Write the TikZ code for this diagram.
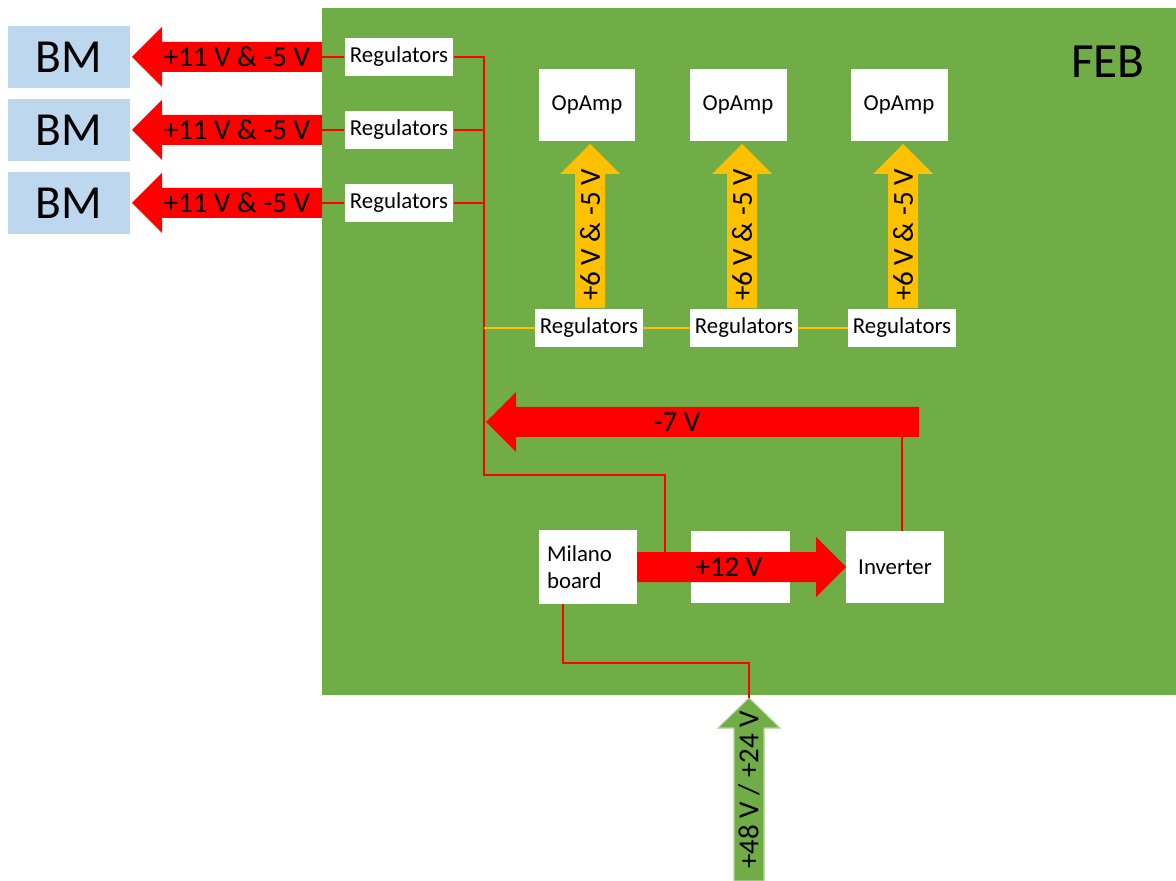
\documentclass[tikz,border=0pt]{standalone}
\usepackage{fontspec}
\setmainfont{Carlito}
\definecolor{febgreen}{HTML}{70AD47}
\definecolor{bmblue}{HTML}{BDD7EE}
\definecolor{pwrred}{HTML}{FF0000}
\definecolor{pwrorange}{HTML}{FFC000}
\begin{document}
\begin{tikzpicture}[x=0.02cm,y=-0.02cm]
        \tikzstyle{box}=[fill=white,inner sep=0pt,font=\fontsize{13}{15.5}\selectfont];
        \tikzstyle{reg}=[box,minimum width=2.18cm,minimum height=0.76cm];
        \tikzstyle{opamp}=[box,minimum width=1.94cm,minimum height=1.44cm];
        \tikzstyle{bm}=[fill=bmblue,minimum width=2.44cm,minimum height=1.24cm,inner sep=0pt,font=\fontsize{27}{30}\selectfont];
        \tikzstyle{wire}=[draw=pwrred,line width=1.1pt];
        \tikzstyle{lowwire}=[draw=pwrorange,line width=1pt];
        \tikzstyle{volt}=[inner sep=0pt,font=\fontsize{16.5}{20}\selectfont];
        \useasboundingbox (0,0) rectangle (1176,881);
        %board
        \fill[febgreen] (322,8) rectangle (1176,695);
        \node[font=\fontsize{28}{32}\selectfont] (feb) at (1108,62) {FEB};
        %beam monitors
        \node[bm] (bm1) at (69,57) {BM};
        \node[bm] (bm2) at (69,130) {BM};
        \node[bm] (bm3) at (69,203) {BM};
        \fill[pwrred] (322,42) -- (162,42) -- (162,27) -- (132,57) -- (162,87) -- (162,72) -- (322,72) -- cycle;
        \fill[pwrred] (322,115) -- (162,115) -- (162,100) -- (132,130) -- (162,160) -- (162,145) -- (322,145) -- cycle;
        \fill[pwrred] (322,188) -- (162,188) -- (162,173) -- (132,203) -- (162,233) -- (162,218) -- (322,218) -- cycle;
        \node[volt] (v1) at (237,57) {+11 V \& -5 V};
        \node[volt] (v2) at (237,130) {+11 V \& -5 V};
        \node[volt] (v3) at (237,203) {+11 V \& -5 V};
        \coordinate (t1) at (322,57);
        \coordinate (t2) at (322,130);
        \coordinate (t3) at (322,203);
        \node[reg] (reg1) at (399,57) {Regulators};
        \node[reg] (reg2) at (399,130) {Regulators};
        \node[reg] (reg3) at (399,203) {Regulators};
        %opamps and their regulators
        \node[opamp] (opa) at (587,105) {OpAmp};
        \node[opamp] (opb) at (738,105) {OpAmp};
        \node[opamp] (opc) at (899,105) {OpAmp};
        \node[reg,minimum width=2.16cm,minimum height=0.78cm] (rega) at (589,328) {Regulators};
        \node[reg,minimum width=2.16cm,minimum height=0.78cm] (regb) at (744,328) {Regulators};
        \node[reg,minimum width=2.16cm,minimum height=0.78cm] (regc) at (902,328) {Regulators};
        \fill[pwrorange] (575,308) -- (575,174) -- (560,174) -- (590,144) -- (620,174) -- (605,174) -- (605,308) -- cycle;
        \fill[pwrorange] (727,308) -- (727,174) -- (712,174) -- (742,144) -- (772,174) -- (757,174) -- (757,308) -- cycle;
        \fill[pwrorange] (888,308) -- (888,174) -- (873,174) -- (903,144) -- (933,174) -- (918,174) -- (918,308) -- cycle;
        \node[volt,rotate=90] (va) at (590,235) {+6 V \& -5 V};
        \node[volt,rotate=90] (vb) at (742,235) {+6 V \& -5 V};
        \node[volt,rotate=90] (vc) at (903,235) {+6 V \& -5 V};
        %power input
        \node[box,minimum width=1.96cm,minimum height=1.48cm,text width=1.64cm,inner xsep=0.16cm,align=left] (milano) at (588,567) {Milano\\board};
        \node[box,minimum width=1.98cm,minimum height=1.44cm] (mid) at (740,567) {};
        \node[box,minimum width=1.96cm,minimum height=1.44cm] (inv) at (895,567) {Inverter};
        \fill[pwrred] (637,552) -- (816,552) -- (816,537) -- (846,567) -- (816,597) -- (816,582) -- (637,582) -- cycle;
        \node[volt] (v12) at (729,567) {+12 V};
        \fill[pwrred] (919,407) -- (516,407) -- (516,392) -- (486,422) -- (516,452) -- (516,437) -- (919,437) -- cycle;
        \node[volt] (v7) at (677,422) {-7 V};
        \fill[febgreen,draw=febgreen!55!white,line width=0.6pt] (734,881) -- (734,728) -- (718,728) -- (749,698) -- (780,728) -- (764,728) -- (764,881) -- cycle;
        \node[volt,rotate=90] (vin) at (749,790) {+48 V / +24 V};
        %wiring
        \coordinate (b1) at (484,57);
        \coordinate (b2) at (484,130);
        \coordinate (b3) at (484,203);
        \coordinate (b4) at (484,328);
        \coordinate (j12) at (665,552);
        \coordinate (m7) at (902,437);
        \coordinate (gtip) at (749,698);
        \draw[wire] (t1) -- (reg1);
        \draw[wire] (t2) -- (reg2);
        \draw[wire] (t3) -- (reg3);
        \draw[wire] (reg1) -- (b1) -- (484,475) -| (j12);
        \draw[wire] (reg2) -- (b2);
        \draw[wire] (reg3) -- (b3);
        \draw[lowwire] (b4) -- (rega) -- (regb) -- (regc);
        \draw[wire] (m7) -- (m7 |- inv.north);
        \draw[wire] ([xshift=-0.5cm]milano.south) |- (749,663) -- (gtip);
    \end{tikzpicture}
\end{document}
